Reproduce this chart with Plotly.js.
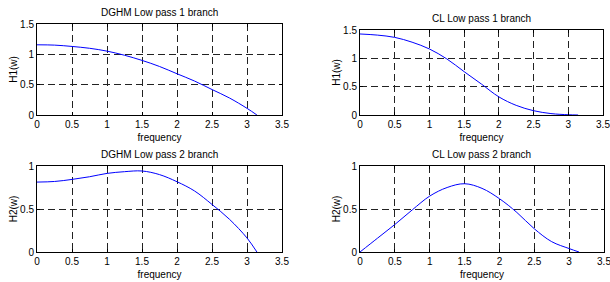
<!DOCTYPE html>
<html>
<head>
<meta charset="utf-8">
<script src="https://cdn.plot.ly/plotly-3.0.1.min.js"></script>
<style>html,body{margin:0;padding:0;background:#fff;}#chart{width:610px;height:282px;}</style>
</head>
<body>
<div id="chart"></div>
<script>
// Frequency samples (0 .. pi)
const freq = [0, 0.25, 0.5, 0.75, 1.0, 1.25, 1.5, 1.75, 2.0, 2.25, 2.5, 2.75, 3.0, 3.1416];
// DGHM low pass, branch 1
const dghmH1 = [1.157, 1.152, 1.13, 1.10, 1.053, 0.985, 0.90, 0.80, 0.68, 0.56, 0.42, 0.28, 0.11, 0.0];
// CL low pass, branch 1
const clH1 = [1.43, 1.41, 1.37, 1.285, 1.165, 0.99, 0.765, 0.545, 0.32, 0.17, 0.076, 0.025, 0.005, 0.0];
// DGHM low pass, branch 2
const dghmH2 = [0.813, 0.82, 0.844, 0.875, 0.914, 0.934, 0.942, 0.90, 0.817, 0.71, 0.553, 0.38, 0.163, 0.0];
// CL low pass, branch 2
const clH2 = [0.0, 0.16, 0.32, 0.49, 0.65, 0.75, 0.794, 0.74, 0.62, 0.46, 0.27, 0.12, 0.04, 0.0];

const titles = ["DGHM Low pass 1 branch", "CL Low pass 1 branch", "DGHM Low pass 2 branch", "CL Low pass 2 branch"];
const yTitles = ["H1(w)", "H1(w)", "H2(w)", "H2(w)"];
const xTickVals = [0, 0.5, 1, 1.5, 2, 2.5, 3, 3.5];
const xTickText = ["0", "0.5", "1", "1.5", "2", "2.5", "3", "3.5"];
const yTicks1 = [0, 0.5, 1, 1.5];
const yTickText1 = ["0", "0.5", "1", "1.5"];
const yTicks2 = [0, 0.5, 1];
const yTickText2 = ["0", "0.5", "1"];

const W = 610, H = 282;
const boxes = [
  {l: 37, r: 282, t: 24, b: 115},
  {l: 360, r: 603, t: 30, b: 115},
  {l: 37, r: 282, t: 166, b: 252},
  {l: 360, r: 604, t: 166, b: 252}
];
const series = [dghmH1, clH1, dghmH2, clH2];
const yRanges = [[0, 1.5], [0, 1.5], [0, 1], [0, 1]];
const font = {family: "Liberation Sans, Arial, sans-serif", size: 10, color: "#000"};

const data = [];
const layout = {
  width: W, height: H,
  margin: {l: 0, r: 0, t: 0, b: 0},
  paper_bgcolor: "#fff", plot_bgcolor: "#fff",
  showlegend: false,
  font: font,
  annotations: []
};

series.forEach((ys, i) => {
  const n = i + 1;
  const xa = n === 1 ? "xaxis" : "xaxis" + n;
  const ya = n === 1 ? "yaxis" : "yaxis" + n;
  data.push({
    x: freq, y: ys, type: "scatter", mode: "lines",
    line: {color: "#0000ff", width: 1, shape: "spline", smoothing: 1},
    xaxis: "x" + (n === 1 ? "" : n), yaxis: "y" + (n === 1 ? "" : n),
    hoverinfo: "skip"
  });
  const b = boxes[i];
  const common = {
    showline: true, linecolor: "#000", linewidth: 1, mirror: "ticks",
    ticks: "inside", ticklen: 3, tickcolor: "#000",
    showgrid: true, gridcolor: "#222", gridwidth: 1, griddash: "7px,4px",
    zeroline: false, tickfont: font, fixedrange: true,
    ticklabeloverflow: "allow"
  };
  layout[xa] = Object.assign({}, common, {
    domain: [b.l / W, b.r / W], range: [0, 3.5], anchor: "y" + (n === 1 ? "" : n),
    tickmode: "array", tickvals: xTickVals, ticktext: xTickText,
    title: {text: "frequency", font: font, standoff: 4}
  });
  const yt = yRanges[i][1] > 1 ? yTicks1 : yTicks2;
  const ytt = yRanges[i][1] > 1 ? yTickText1 : yTickText2;
  layout[ya] = Object.assign({}, common, {
    domain: [1 - b.b / H, 1 - b.t / H], range: yRanges[i], anchor: "x" + (n === 1 ? "" : n),
    tickmode: "array", tickvals: yt, ticktext: ytt,
    title: {text: yTitles[i], font: font, standoff: 0}
  });
  layout.annotations.push({
    text: titles[i], xref: "paper", yref: "paper",
    x: (b.l + b.r) / 2 / W, y: 1 - (b.t - 4) / H,
    xanchor: "center", yanchor: "bottom", showarrow: false, font: font
  });
});

Plotly.newPlot("chart", data, layout, {displayModeBar: false, staticPlot: true});
</script>
</body>
</html>
